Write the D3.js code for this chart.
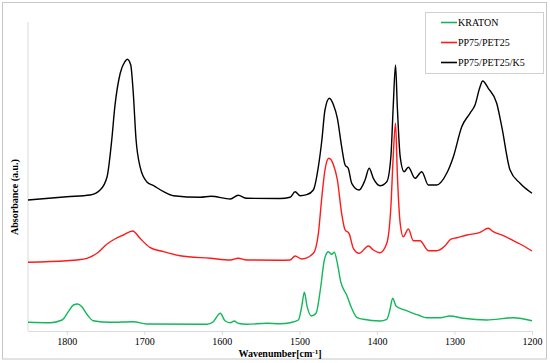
<!DOCTYPE html>
<html>
<head>
<meta charset="utf-8">
<script src="https://cdn.jsdelivr.net/npm/d3@7"></script>
<style>
  body { margin: 0; background: #fff; }
  svg { display: block; font-family: "Liberation Serif", "Times New Roman", serif; }
  .axis path, .axis line { stroke: #d9d9d9; }
  .axis text { font-size: 10px; fill: #000; font-family: "Liberation Serif", serif; }
  .label { font-size: 10px; font-weight: bold; }
</style>
</head>
<body>
<div id="chart"></div>
<script>
// absorbance readings (a.u., curves offset as in the original figure)
var kratonWn = [1850, 1821.5, 1806, 1798, 1791.5, 1786, 1780.6, 1774, 1766, 1744, 1714, 1697, 1619, 1611, 1602, 1596, 1589, 1584, 1579, 1568, 1542, 1525, 1512, 1501.3, 1497, 1493.6, 1490, 1484.5, 1478.5, 1473, 1467.8, 1462.7, 1458.3, 1455, 1451, 1446.7, 1439, 1432.5, 1426, 1417.5, 1396, 1387.3, 1383.3, 1379.7, 1375.4, 1370, 1361.6, 1353, 1346.6, 1335.8, 1318.6, 1305.7, 1288.5, 1258.4, 1224, 1200];
var kratonAbs = [0.087, 0.083, 0.11, 0.193, 0.26, 0.27, 0.243, 0.167, 0.103, 0.087, 0.093, 0.07, 0.067, 0.093, 0.177, 0.103, 0.083, 0.1, 0.077, 0.067, 0.077, 0.073, 0.083, 0.11, 0.243, 0.387, 0.243, 0.15, 0.177, 0.41, 0.71, 0.793, 0.767, 0.787, 0.677, 0.493, 0.36, 0.227, 0.137, 0.117, 0.1, 0.117, 0.21, 0.327, 0.25, 0.227, 0.203, 0.177, 0.16, 0.133, 0.133, 0.15, 0.127, 0.11, 0.133, 0.103];

var blendWn = [1850, 1800, 1787, 1774, 1761, 1748, 1738, 1727, 1715, 1705.5, 1693, 1675, 1654, 1615, 1589, 1579, 1568, 1525, 1512, 1505.5, 1497, 1482, 1475.5, 1471, 1467, 1462, 1456, 1451, 1445.5, 1441, 1436, 1430.4, 1423, 1411, 1404.6, 1396, 1387.3, 1382, 1379, 1376, 1373.7, 1370, 1366, 1359.5, 1353, 1344.5, 1333.6, 1323, 1312, 1305, 1297, 1284, 1267, 1256.4, 1250, 1237, 1224, 1215.4, 1200];
var blendAbs = [0.687, 0.703, 0.71, 0.727, 0.777, 0.87, 0.92, 0.96, 1.0, 0.927, 0.837, 0.793, 0.753, 0.727, 0.71, 0.727, 0.71, 0.708, 0.71, 0.75, 0.72, 0.777, 0.977, 1.343, 1.61, 1.727, 1.66, 1.51, 1.177, 1.01, 0.977, 0.827, 0.777, 0.85, 0.81, 0.783, 0.877, 1.243, 1.743, 2.077, 1.577, 1.077, 0.943, 1.02, 0.903, 0.903, 0.803, 0.803, 0.853, 0.917, 0.933, 0.96, 0.987, 1.027, 0.993, 0.953, 0.903, 0.87, 0.8];

var k5Wn = [1850, 1800, 1770, 1757, 1748, 1742, 1738, 1731, 1725, 1722, 1717.5, 1714.5, 1710.6, 1705.5, 1697, 1688, 1675, 1662.5, 1628, 1614, 1589, 1579, 1568, 1525, 1512, 1505.5, 1499, 1490.5, 1482, 1475.5, 1471, 1467, 1461.3, 1456, 1451, 1445.5, 1441, 1437, 1432.5, 1423, 1415.3, 1410, 1404.6, 1396, 1387.3, 1382, 1379, 1376, 1373.7, 1370, 1365, 1359.5, 1350.8, 1342.2, 1333.6, 1323, 1310, 1301.4, 1290.6, 1280, 1273.5, 1267, 1263.6, 1256.4, 1245.5, 1239, 1228.3, 1215.4, 1200];
var k5Abs = [1.31, 1.343, 1.36, 1.41, 1.543, 1.91, 2.243, 2.58, 2.693, 2.717, 2.66, 2.41, 1.91, 1.643, 1.493, 1.453, 1.393, 1.353, 1.337, 1.347, 1.32, 1.357, 1.327, 1.325, 1.337, 1.393, 1.353, 1.363, 1.41, 1.643, 1.91, 2.21, 2.327, 2.26, 2.127, 1.843, 1.66, 1.627, 1.477, 1.41, 1.51, 1.627, 1.527, 1.453, 1.493, 1.743, 2.243, 2.66, 2.243, 1.743, 1.593, 1.637, 1.527, 1.593, 1.46, 1.46, 1.577, 1.743, 2.043, 2.177, 2.26, 2.443, 2.5, 2.427, 2.277, 2.043, 1.61, 1.477, 1.377];

var seriesNames = ["KRATON", "PP75/PET25", "PP75/PET25/K5"];
var seriesColors = ["#12b85a", "#ff1a1a", "#000000"];
var xTicks = [1800, 1700, 1600, 1500, 1400, 1300, 1200];

var W = 550, H = 363;
var svg = d3.select("#chart").append("svg").attr("width", W).attr("height", H);

// outer frame
svg.append("rect")
    .attr("x", 2.5).attr("y", 2.5).attr("width", 544).attr("height", 356.5)
    .attr("fill", "none").attr("stroke", "#c6c6c6");

var x = d3.scaleLinear().domain([1850, 1200]).range([28, 532]);
var y = d3.scaleLinear().domain([0, 3.09]).range([331, 22]);

// axes
svg.append("g").attr("class", "axis")
    .attr("transform", "translate(0,331)")
    .call(d3.axisBottom(x).tickValues(xTicks).tickSize(4).tickSizeOuter(0).tickPadding(3).tickFormat(d3.format("d")));

svg.append("line")
    .attr("x1", 28).attr("x2", 28).attr("y1", y(3.09)).attr("y2", 331)
    .attr("stroke", "#d9d9d9");

svg.append("text")
    .attr("class", "label")
    .attr("x", 280).attr("y", 357)
    .attr("text-anchor", "middle")
    .html('Wavenumber[cm<tspan dy="-3" font-size="7">-1</tspan><tspan dy="3">]</tspan>');

svg.append("text")
    .attr("class", "label")
    .attr("transform", "translate(18,197) rotate(-90)")
    .attr("text-anchor", "middle")
    .text("Absorbance  (a.u.)");

// spectra
var line = d3.line()
    .x(function (d) { return x(d[0]); })
    .y(function (d) { return y(d[1]); })
    .curve(d3.curveMonotoneX);

var series = [
    d3.zip(kratonWn, kratonAbs),
    d3.zip(blendWn, blendAbs),
    d3.zip(k5Wn, k5Abs)
];

series.forEach(function (s, i) {
    svg.append("path")
        .attr("d", line(s))
        .attr("fill", "none")
        .attr("stroke", seriesColors[i])
        .attr("stroke-width", 1.4)
        .attr("stroke-linejoin", "round");
});

// legend
var lg = svg.append("g");
lg.append("rect")
    .attr("x", 425.5).attr("y", 12.5).attr("width", 118).attr("height", 61)
    .attr("fill", "#fff").attr("stroke", "#d0d0d0");
seriesNames.forEach(function (name, i) {
    var yy = 22.5 + i * 20;
    lg.append("line")
        .attr("x1", 441).attr("x2", 457).attr("y1", yy).attr("y2", yy)
        .attr("stroke", seriesColors[i]).attr("stroke-width", 1.6);
    lg.append("text")
        .attr("x", 458).attr("y", yy).attr("dy", "0.35em")
        .style("font-size", "10px")
        .text(name);
});
</script>
</body>
</html>
